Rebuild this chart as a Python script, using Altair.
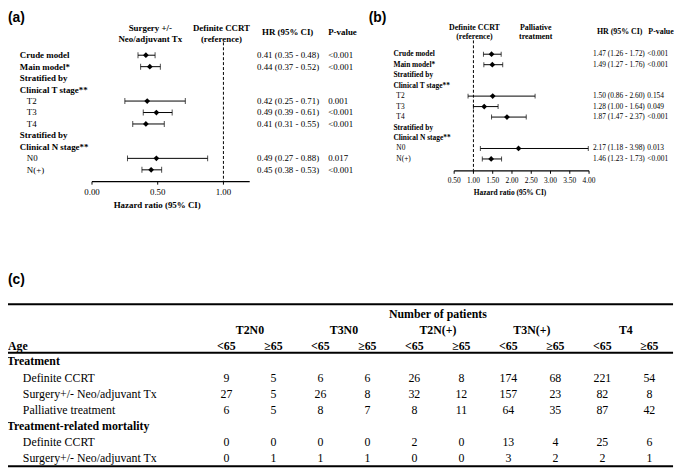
import altair as alt
import pandas as pd

SERIF = "'Liberation Serif', 'Times New Roman', Times, serif"
SANS = "'Liberation Sans', Arial, Helvetica, sans-serif"

# ---------------- data: panel (a) Surgery vs Definite CCRT ----------------
forest_labels = ["Crude model", "Main model*", "Stratified by", "Clinical T stage**",
                 "T2", "T3", "T4", "Stratified by", "Clinical N stage**", "N0", "N(+)"]
forest_bold = [True, True, True, True, False, False, False, True, True, False, False]

a_hr = [0.41, 0.44, None, None, 0.42, 0.49, 0.41, None, None, 0.49, 0.45]
a_lo = [0.35, 0.37, None, None, 0.25, 0.39, 0.31, None, None, 0.27, 0.38]
a_hi = [0.48, 0.52, None, None, 0.71, 0.61, 0.55, None, None, 0.88, 0.53]
a_p = ["<0.001", "<0.001", "", "", "0.001", "<0.001", "<0.001", "", "", "0.017", "<0.001"]
a_ticks = [0.0, 0.5, 1.0]
a_domain = [0.0, 1.2]

# ---------------- data: panel (b) Palliative vs Definite CCRT ----------------
b_hr = [1.47, 1.49, None, None, 1.50, 1.28, 1.87, None, None, 2.17, 1.46]
b_lo = [1.26, 1.27, None, None, 0.86, 1.00, 1.47, None, None, 1.18, 1.23]
b_hi = [1.72, 1.76, None, None, 2.60, 1.64, 2.37, None, None, 3.98, 1.73]
b_p = ["<0.001", "<0.001", "", "", "0.154", "0.049", "<0.001", "", "", "0.013", "<0.001"]
b_ticks = [0.5, 1.0, 1.5, 2.0, 2.5, 3.0, 3.5, 4.0]
b_domain = [0.5, 4.0]

# ---------------- data: panel (c) table ----------------
stages = ["T2N0", "T3N0", "T2N(+)", "T3N(+)", "T4"]
ages = ["<65", "≥65"]
table_labels = ["Treatment", "Definite CCRT", "Surgery+/- Neo/adjuvant Tx", "Palliative treatment",
                "Treatment-related mortality", "Definite CCRT", "Surgery+/- Neo/adjuvant Tx"]
table_bold = [True, False, False, False, True, False, False]
treat_ccrt = [9, 5, 6, 6, 26, 8, 174, 68, 221, 54]
treat_surg = [27, 5, 26, 8, 32, 12, 157, 23, 82, 8]
treat_pall = [6, 5, 8, 7, 8, 11, 64, 35, 87, 42]
mort_ccrt = [0, 0, 0, 0, 2, 0, 13, 4, 25, 6]
mort_surg = [0, 1, 1, 1, 0, 0, 3, 2, 2, 1]

ONE = pd.DataFrame({"k": [0]})


def txt(text, x, y, size, weight="normal", align="center", font=SERIF):
    return alt.Chart(ONE).mark_text(
        text=text, font=font, fontSize=size, fontWeight=weight, align=align,
        baseline="middle", color="black"
    ).encode(x=alt.value(x), y=alt.value(y))


def hline(x1, x2, y, w):
    return alt.Chart(ONE).mark_rule(color="black", strokeWidth=w).encode(
        x=alt.value(x1), x2=alt.value(x2), y=alt.value(y))


def forest(hr, lo, hi, p, ticks, xdom, xrng, yrng, fs, lab_x, sub_x, hr_x, p_x,
           ref_top, axis_y, title_x, title_y, cap):
    ids = [f"r{i}" for i in range(len(forest_labels))]
    df = pd.DataFrame({"id": ids, "label": forest_labels, "bold": forest_bold,
                       "hr": hr, "lo": lo, "hi": hi, "p": p})
    df["hrtxt"] = [f"{h:.2f} ({l:.2f} - {u:.2f})" if pd.notna(h) else ""
                   for h, l, u in zip(hr, lo, hi)]
    est = df[df["hr"].notna()]
    xs = alt.Scale(domain=xdom, range=xrng, nice=False, zero=False)
    ys = alt.Scale(type="point", domain=ids, range=yrng, padding=0)
    Y = alt.Y("id:N", scale=ys, axis=None)
    base = dict(font=SERIF, fontSize=fs, baseline="middle", align="left", color="black")

    lab_b = alt.Chart(df[df["bold"]]).mark_text(fontWeight="bold", **base).encode(
        x=alt.value(lab_x), y=Y, text="label:N")
    lab_s = alt.Chart(df[~df["bold"]]).mark_text(**base).encode(
        x=alt.value(sub_x), y=Y, text="label:N")
    ci = alt.Chart(est).mark_rule(color="black", strokeWidth=1).encode(
        x=alt.X("lo:Q", scale=xs, axis=None), x2="hi:Q", y=Y)
    cap_lo = alt.Chart(est).mark_tick(color="black", thickness=1, size=cap).encode(
        x=alt.X("lo:Q", scale=xs, axis=None), y=Y)
    cap_hi = alt.Chart(est).mark_tick(color="black", thickness=1, size=cap).encode(
        x=alt.X("hi:Q", scale=xs, axis=None), y=Y)
    pts = alt.Chart(est).mark_point(shape="diamond", filled=True, size=34, color="black",
                                    opacity=1).encode(
        x=alt.X("hr:Q", scale=xs, axis=None), y=Y)
    hrt = alt.Chart(est).mark_text(**base).encode(x=alt.value(hr_x), y=Y, text="hrtxt:N")
    pt = alt.Chart(est).mark_text(**base).encode(x=alt.value(p_x), y=Y, text="p:N")

    ref = alt.Chart(pd.DataFrame({"ref": [1.0]})).mark_rule(
        color="black", strokeWidth=1, strokeDash=[3, 2]).encode(
        x=alt.X("ref:Q", scale=xs, axis=None), y=alt.value(ref_top), y2=alt.value(axis_y))
    axl = alt.Chart(pd.DataFrame({"s": [xdom[0]], "e": [xdom[1]]})).mark_rule(
        color="black", strokeWidth=1.2).encode(
        x=alt.X("s:Q", scale=xs, axis=None), x2="e:Q", y=alt.value(axis_y))
    tdf = pd.DataFrame({"t": ticks})
    tks = alt.Chart(tdf).mark_rule(color="black", strokeWidth=1).encode(
        x=alt.X("t:Q", scale=xs, axis=None), y=alt.value(axis_y), y2=alt.value(axis_y + 3))
    tlab = alt.Chart(tdf).mark_text(font=SERIF, fontSize=fs, baseline="middle",
                                    align="center", color="black").encode(
        x=alt.X("t:Q", scale=xs, axis=None), y=alt.value(axis_y + 10),
        text=alt.Text("t:Q", format=".2f"))
    title = txt("Hazard ratio (95% CI)", title_x, title_y, fs, "bold")
    return alt.layer(ref, ci, cap_lo, cap_hi, pts, lab_b, lab_s, hrt, pt, axl, tks, tlab, title)


panel_a = forest(a_hr, a_lo, a_hi, a_p, a_ticks, a_domain, [85, 244.6], [45, 161], 9,
                 12, 19, 252, 324, 32, 173, 151, 197, 6)
panel_b = forest(b_hr, b_lo, b_hi, b_p, b_ticks, b_domain, [451.5, 588], [44, 150], 7.5,
                 390, 393, 592, 647, 30, 162, 508, 184, 5)

# ---------------- table ----------------
cols = [f"{s}|{a}" for s in stages for a in ages]
rids = [f"t{i}" for i in range(len(table_labels))]
value_rows = {1: treat_ccrt, 2: treat_surg, 3: treat_pall, 5: mort_ccrt, 6: mort_surg}
cells = pd.DataFrame([{"row": rids[r], "col": c, "n": v}
                      for r, vals in value_rows.items() for c, v in zip(cols, vals)])
tl = pd.DataFrame({"row": rids, "label": table_labels, "bold": table_bold})
agedf = pd.DataFrame({"col": cols, "age": [a for s in stages for a in ages]})
stagedf = pd.DataFrame({"col": [f"{s}|{ages[0]}" for s in stages], "stage": stages})

xc = alt.Scale(type="point", domain=cols, range=[221, 649], padding=0)
yc = alt.Scale(type="point", domain=rids, range=[355, 453], padding=0)
XC = alt.X("col:N", scale=xc, axis=None)
YC = alt.Y("row:N", scale=yc, axis=None)
tb = dict(font=SERIF, fontSize=12, baseline="middle", color="black")

cell_txt = alt.Chart(cells).mark_text(align="center", **tb).encode(x=XC, y=YC, text="n:Q")
row_b = alt.Chart(tl[tl["bold"]]).mark_text(align="left", fontWeight="bold", **tb).encode(
    x=alt.value(-1), y=YC, text="label:N")
row_s = alt.Chart(tl[~tl["bold"]]).mark_text(align="left", **tb).encode(
    x=alt.value(15), y=YC, text="label:N")
age_h = alt.Chart(agedf).mark_text(align="center", fontWeight="bold", **tb).encode(
    x=XC, y=alt.value(339), text="age:N")
stage_h = alt.Chart(stagedf).mark_text(align="center", fontWeight="bold", dx=23.8, **tb).encode(
    x=XC, y=alt.value(323), text="stage:N")
panel_c = alt.layer(cell_txt, row_b, row_s, age_h, stage_h)

deco = [
    txt("(a)", 0, 7, 14, "bold", "left", SANS),
    txt("(b)", 365, 7, 14, "bold", "left", SANS),
    txt("(c)", 0, 273, 14, "bold", "left", SANS),
    # panel (a) headers
    txt("Surgery +/-", 144, 18, 9, "bold"),
    txt("Neo/adjuvant Tx", 144, 29, 9, "bold"),
    txt("Definite CCRT", 216, 18, 9, "bold"),
    txt("(reference)", 216, 29, 9, "bold"),
    txt("HR (95% CI)", 283, 22, 9, "bold"),
    txt("P-value", 324, 22, 9, "bold", "left"),
    # panel (b) headers
    txt("Definite CCRT", 472, 18, 8, "bold"),
    txt("(reference)", 472, 26.5, 8, "bold"),
    txt("Palliative", 534, 18, 8, "bold"),
    txt("treatment", 534, 26.5, 8, "bold"),
    txt("HR (95% CI)", 619, 22, 8, "bold"),
    txt("P-value", 648, 22, 8, "bold", "left"),
    # table
    txt("Number of patients", 435, 307, 12, "bold"),
    txt("Age", 0, 339, 12, "bold", "left"),
    hline(-2, 673, 297, 2),
    hline(-2, 673, 346, 2),
    hline(-2, 673, 461, 2),
]

chart = alt.layer(panel_a, panel_b, panel_c, *deco).resolve_scale(
    x="independent", y="independent"
).properties(
    width=677, height=463, autosize="none", padding=0, background="white"
).configure_view(stroke=None)

chart.save("out.html", embed_options={"renderer": "svg", "actions": False})
